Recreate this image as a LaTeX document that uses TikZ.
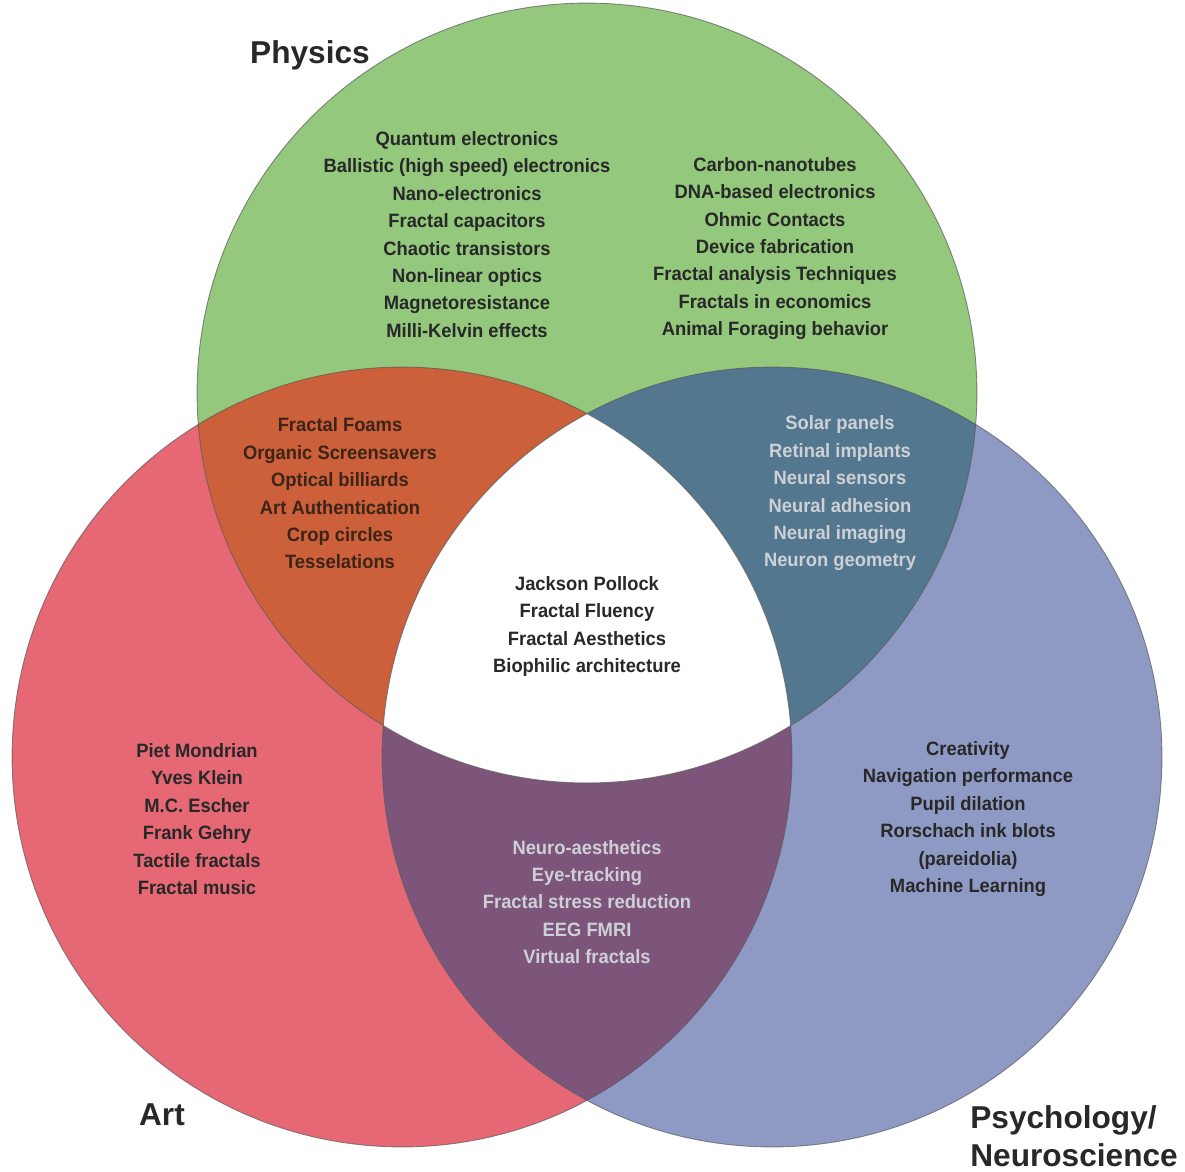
\documentclass[tikz,border=0pt]{standalone}
\usepackage{fontspec}
\setmainfont{Liberation Sans}[FakeStretch=0.95]
\newfontfamily\titlefont{Liberation Sans}
\definecolor{cgreen}{RGB}{147,200,125}
\definecolor{cred}{RGB}{229,104,116}
\definecolor{cblue}{RGB}{142,154,196}
\definecolor{crg}{RGB}{203,96,58}
\definecolor{cgb}{RGB}{83,119,142}
\definecolor{crb}{RGB}{125,84,122}
\definecolor{txtdark}{RGB}{40,40,40}
\definecolor{txtbrown}{RGB}{60,36,24}
\definecolor{txtlight}{RGB}{205,208,214}
\definecolor{edge}{RGB}{90,90,90}
\begin{document}
\begin{tikzpicture}[x=0.02cm,y=-0.02cm,
  lbl/.style={align=center, inner sep=0pt, text=txtdark,
    font=\fontsize{11}{15.6}\selectfont\bfseries},
  ttl/.style={inner sep=0pt, text=txtdark, align=left,
    font=\titlefont\fontsize{18}{21.5}\selectfont\bfseries},
  rim/.style={draw=edge, line width=0.5pt, draw opacity=0.7}]
\useasboundingbox (0,0) rectangle (1185,1171);
\def\R{7.8cm}
\coordinate (P) at (587,393);
\coordinate (A) at (402,757);
\coordinate (N) at (772,757);
% single circles
\fill[cgreen] (P) circle[radius=\R];
\fill[cred] (A) circle[radius=\R];
\fill[cblue] (N) circle[radius=\R];
% pairwise overlaps
\begin{scope}
  \clip (P) circle[radius=\R];
  \fill[crg] (A) circle[radius=\R];
\end{scope}
\begin{scope}
  \clip (P) circle[radius=\R];
  \fill[cgb] (N) circle[radius=\R];
\end{scope}
\begin{scope}
  \clip (A) circle[radius=\R];
  \fill[crb] (N) circle[radius=\R];
\end{scope}
% triple overlap
\begin{scope}
  \clip (P) circle[radius=\R];
  \clip (A) circle[radius=\R];
  \fill[white] (N) circle[radius=\R];
\end{scope}
% outlines
\draw[rim] (P) circle[radius=\R];
\draw[rim] (A) circle[radius=\R];
\draw[rim] (N) circle[radius=\R];
% titles
\node[ttl] (tphys) at (310,55) {Physics};
\node[ttl] (tart) at (162,1115) {Art};
\node[ttl, anchor=west] (tpsy) at (970,1136) {Psychology/\\Neuroscience};
% texts
\node[lbl] (physL) at (467,234.5) {Quantum electronics\\Ballistic (high speed) electronics\\Nano-electronics\\Fractal capacitors\\Chaotic transistors\\Non-linear optics\\Magnetoresistance\\Milli-Kelvin effects};
\node[lbl] (physR) at (775,248.5) {Carbon-nanotubes\\DNA-based electronics\\Ohmic Contacts\\Device fabrication\\Fractal analysis Techniques\\Fractals in economics\\Animal Foraging behavior};
\node[lbl, text=txtbrown] (rg) at (340,493.5) {Fractal Foams\\Organic Screensavers\\Optical billiards\\Art Authentication\\Crop circles\\Tesselations};
\node[lbl, text=txtlight] (gb) at (840,493.5) {Solar panels\\Retinal implants\\Neural sensors\\Neural adhesion\\Neural imaging\\Neuron geometry};
\node[lbl] (mid) at (587,626.5) {Jackson Pollock\\Fractal Fluency\\Fractal Aesthetics\\Biophilic architecture};
\node[lbl] (art) at (197,819) {Piet Mondrian\\Yves Klein\\M.C. Escher\\Frank Gehry\\Tactile fractals\\Fractal music};
\node[lbl] (psy) at (968,819) {Creativity\\Navigation performance\\Pupil dilation\\Rorschach ink blots\\(pareidolia)\\Machine Learning};
\node[lbl, text=txtlight] (rb) at (587,902) {Neuro-aesthetics\\Eye-tracking\\Fractal stress reduction\\EEG FMRI\\Virtual fractals};
\end{tikzpicture}
\end{document}
